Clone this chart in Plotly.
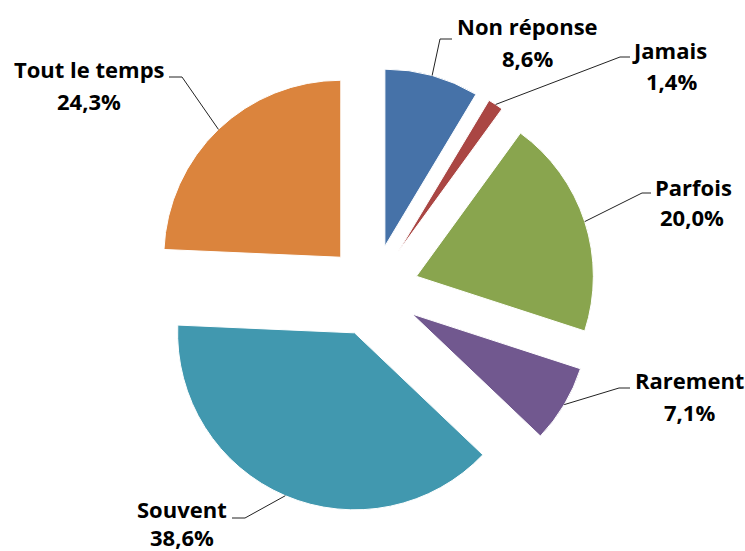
import math
import plotly.graph_objects as go

# Survey answers, clockwise from 12 o'clock
categories = ["Non réponse", "Jamais", "Parfois", "Rarement", "Souvent", "Tout le temps"]
values = [8.6, 1.4, 20.0, 7.1, 38.6, 24.3]
value_labels = ["8,6%", "1,4%", "20,0%", "7,1%", "38,6%", "24,3%"]
colors = ["#4672A8", "#AA4643", "#89A54E", "#71588F", "#4198AF", "#DB843D"]

W, H = 745, 551
CX, CY = 372.6, 290.5      # pie centre in pixels
R = 177.0                   # slice radius in pixels
PULL = 0.26                 # explosion, fraction of radius

# label placement (pixels): name centre, value centre, leader elbow, leader end
label_layout = [
    dict(name=(527, 26), val=(527, 58), elbow=(440, 39), end=(452, 39)),
    dict(name=(669, 50), val=(671, 81), elbow=(620, 57), end=(630, 57)),
    dict(name=(693, 187), val=(692, 217), elbow=(642, 193), end=(651, 193)),
    dict(name=(689, 380), val=(689, 412), elbow=(619, 388), end=(630, 388)),
    dict(name=(182, 509), val=(182, 537), elbow=(245, 518), end=(232, 518)),
    dict(name=(89, 69), val=(89, 101), elbow=(182, 77), end=(169, 77)),
]

FONT = "Open Sans"
FSIZE = 22

half = R * (1 + PULL)
domain_x = [(CX - half) / W, (CX + half) / W]
domain_y = [1 - (CY + half) / H, 1 - (CY - half) / H]

fig = go.Figure(go.Pie(
    labels=categories,
    values=values,
    sort=False,
    direction="clockwise",
    rotation=0,
    pull=[PULL] * len(values),
    marker=dict(colors=colors, line=dict(color="white", width=1)),
    textinfo="none",
    hoverinfo="label+percent",
    showlegend=False,
    domain=dict(x=domain_x, y=domain_y),
))


def px(x, y):
    return x / W, 1 - y / H


shapes = []
annotations = []
total = sum(values)
cum = 0.0
for v, name, vl, lay in zip(values, categories, value_labels, label_layout):
    mid = (cum + v / 2) / total * 2 * math.pi
    cum += v
    dx, dy = math.sin(mid), -math.cos(mid)
    # slice apex after the pull, then the arc point at mid-angle
    ax = CX + R * PULL * dx + R * dx
    ay = CY + R * PULL * dy + R * dy
    ex, ey = lay["elbow"]
    fx, fy = lay["end"]
    path = "M {} {} L {} {} L {} {}".format(*px(ax, ay), *px(ex, ey), *px(fx, fy))
    shapes.append(dict(type="path", xref="paper", yref="paper", path=path,
                       line=dict(color="#222222", width=1)))
    for txt, (tx, ty) in ((name, lay["name"]), (vl, lay["val"])):
        x, y = px(tx, ty)
        annotations.append(dict(
            x=x, y=y, xref="paper", yref="paper", text="<b>%s</b>" % txt,
            showarrow=False, xanchor="center", yanchor="middle",
            font=dict(family=FONT, size=FSIZE, color="#000000"),
        ))

fig.update_layout(
    width=W, height=H,
    margin=dict(l=0, r=0, t=0, b=0),
    paper_bgcolor="white",
    plot_bgcolor="white",
    shapes=shapes,
    annotations=annotations,
)

fig.write_html("out.html")
